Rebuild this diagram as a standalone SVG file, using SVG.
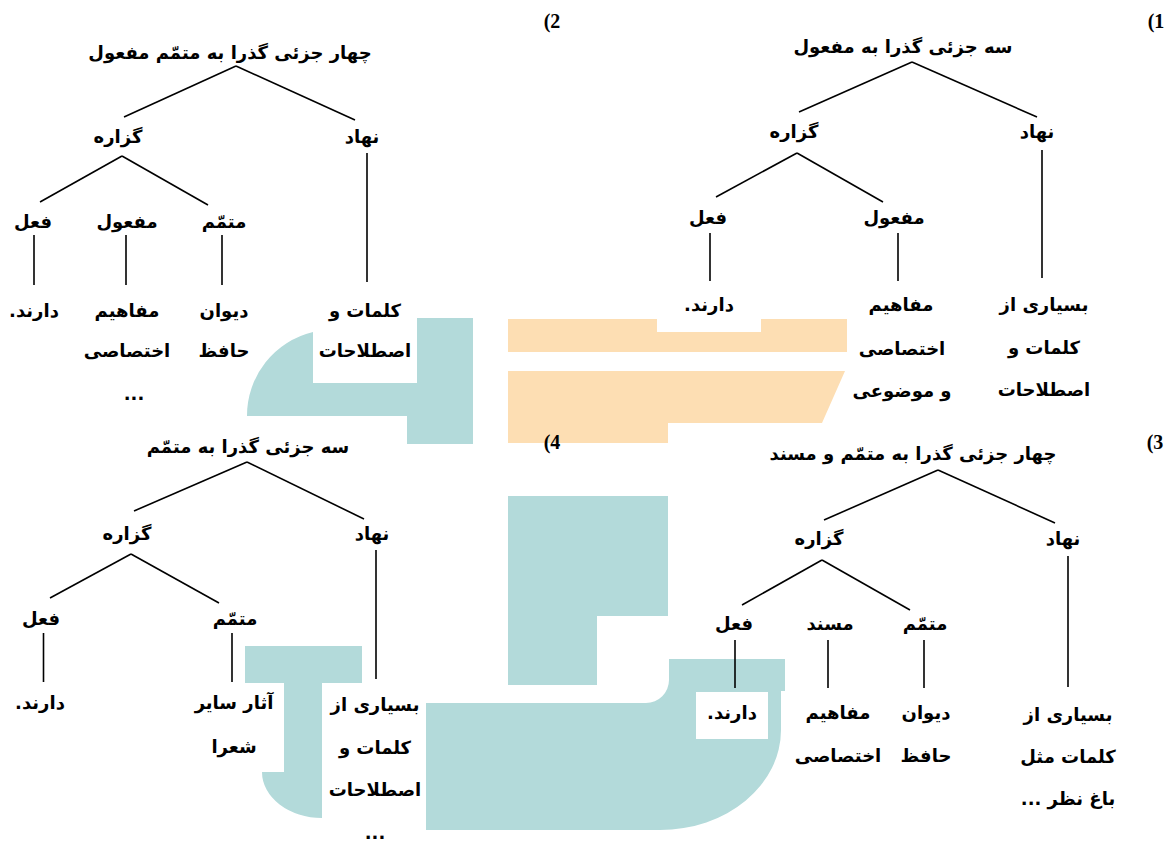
<svg xmlns="http://www.w3.org/2000/svg" width="1171" height="842" viewBox="0 0 1171 842">
<style>
.t{font-family:"DejaVu Sans",sans-serif;font-weight:bold;font-size:18px;text-anchor:middle;direction:rtl;fill:#000}
.n{font-family:"Liberation Serif",serif;font-weight:bold;font-size:20px;text-anchor:middle;fill:#000}
.c line{stroke:#000;stroke-width:1.6}
.teal{fill:#b3dada}
.org{fill:#fddeb3}
</style>
<rect width="1171" height="842" fill="#fff"/>
<g id="background">
<path class="teal" d="M247,416 H407 V444 H473 V318 H417 V383 H313 V332 A86,86 0 0 0 247,416 Z"/>
<path class="org" d="M508,319 H657 V332 H761 V319 H847 V352 H508 Z"/>
<path class="org" d="M508,371 H845 L822,423 H668 V443 H508 Z"/>
<path class="teal" d="M508,496 H668 V616 H597 V685 H508 Z"/>
<path class="teal" d="M426,703 H646 A23,23 0 0 0 669,680 V659 H785 V691 H781 V730 A121,100 0 0 1 660,830 H426 Z"/>
<rect x="696" y="692" width="72" height="47" fill="#fff"/>
<path class="teal" d="M245,646 H362 V683 H322 V818 A60,46 0 0 1 262,772 H284 V683 H245 Z"/>
</g>
<g id="labels">
<text class="n" x="1156" y="28">(1</text>
<text class="n" x="552" y="28">(2</text>
<text class="n" x="1155" y="449">(3</text>
<text class="n" x="552" y="449">(4</text>
</g>
<g id="connectors" class="c">
<line x1="912" y1="62" x2="799" y2="112"/>
<line x1="912" y1="62" x2="1037" y2="117"/>
<line x1="797" y1="153" x2="716" y2="197"/>
<line x1="797" y1="153" x2="883" y2="202"/>
<line x1="710" y1="233" x2="710" y2="281"/>
<line x1="898" y1="233" x2="898" y2="281"/>
<line x1="1042" y1="150" x2="1042" y2="278"/>
<line x1="236" y1="66" x2="124" y2="117"/>
<line x1="236" y1="66" x2="355" y2="120"/>
<line x1="122" y1="156" x2="40" y2="202"/>
<line x1="122" y1="156" x2="208" y2="205"/>
<line x1="34" y1="235" x2="34" y2="285"/>
<line x1="126" y1="235" x2="126" y2="285"/>
<line x1="222" y1="235" x2="222" y2="285"/>
<line x1="367" y1="153" x2="367" y2="282"/>
<line x1="247" y1="462" x2="134" y2="511"/>
<line x1="247" y1="462" x2="364" y2="519"/>
<line x1="131" y1="554" x2="50" y2="598"/>
<line x1="131" y1="554" x2="219" y2="603"/>
<line x1="43.5" y1="633" x2="43.5" y2="682"/>
<line x1="232" y1="633" x2="232" y2="682"/>
<line x1="376" y1="550" x2="376" y2="679"/>
<line x1="938" y1="470" x2="824" y2="520"/>
<line x1="938" y1="470" x2="1055" y2="523"/>
<line x1="822" y1="560" x2="742" y2="605"/>
<line x1="822" y1="560" x2="910" y2="610"/>
<line x1="735" y1="640" x2="735" y2="688"/>
<line x1="828" y1="640" x2="828" y2="688"/>
<line x1="924" y1="640" x2="924" y2="688"/>
<line x1="1068" y1="556" x2="1068" y2="687"/>
</g>
<g id="tree1">
<g id="t1-root"><text class="t" x="903" y="53">سه جزئی گذرا به مفعول</text></g>
<g id="t1-gozare"><text class="t" x="794" y="138">گزاره</text></g>
<g id="t1-nahad"><text class="t" x="1037" y="138">نهاد</text></g>
<g id="t1-feel"><text class="t" x="708" y="224">فعل</text></g>
<g id="t1-mafool"><text class="t" x="894" y="224">مفعول</text></g>
<g id="t1-leaf1"><text class="t" x="709" y="311">دارند.</text></g>
<g id="t1-leaf2"><text class="t" x="901" y="311">مفاهیم</text><text class="t" x="902" y="355">اختصاصی</text><text class="t" x="902" y="397">و موضوعی</text></g>
<g id="t1-leaf3"><text class="t" x="1044" y="311">بسیاری از</text><text class="t" x="1044" y="354">کلمات و</text><text class="t" x="1044" y="396">اصطلاحات</text></g>
</g>
<g id="tree2">
<g id="t2-root"><text class="t" x="230" y="59">چهار جزئی گذرا به متمّم مفعول</text></g>
<g id="t2-gozare"><text class="t" x="118" y="143">گزاره</text></g>
<g id="t2-nahad"><text class="t" x="362" y="143">نهاد</text></g>
<g id="t2-feel"><text class="t" x="33" y="228">فعل</text></g>
<g id="t2-mafool"><text class="t" x="127" y="228">مفعول</text></g>
<g id="t2-motammam"><text class="t" x="224" y="228">متمّم</text></g>
<g id="t2-leaf1"><text class="t" x="34" y="317">دارند.</text></g>
<g id="t2-leaf2"><text class="t" x="127" y="317">مفاهیم</text><text class="t" x="127" y="357">اختصاصی</text><text class="t" x="134" y="400">...</text></g>
<g id="t2-leaf3"><text class="t" x="224" y="317">دیوان</text><text class="t" x="224" y="357">حافظ</text></g>
<g id="t2-leaf4"><text class="t" x="365" y="317">کلمات و</text><text class="t" x="365" y="357">اصطلاحات</text></g>
</g>
<g id="tree3">
<g id="t3-root"><text class="t" x="913" y="460">چهار جزئی گذرا به متمّم و مسند</text></g>
<g id="t3-gozare"><text class="t" x="819" y="545">گزاره</text></g>
<g id="t3-nahad"><text class="t" x="1063" y="545">نهاد</text></g>
<g id="t3-feel"><text class="t" x="734" y="630">فعل</text></g>
<g id="t3-mosnad"><text class="t" x="830" y="630">مسند</text></g>
<g id="t3-motammam"><text class="t" x="925" y="630">متمّم</text></g>
<g id="t3-leaf1"><text class="t" x="732" y="719">دارند.</text></g>
<g id="t3-leaf2"><text class="t" x="838" y="719">مفاهیم</text><text class="t" x="838" y="762">اختصاصی</text></g>
<g id="t3-leaf3"><text class="t" x="926" y="719">دیوان</text><text class="t" x="926" y="762">حافظ</text></g>
<g id="t3-leaf4"><text class="t" x="1068" y="721">بسیاری از</text><text class="t" x="1068" y="763">کلمات مثل</text><text class="t" x="1068" y="805">باغ نظر ...</text></g>
</g>
<g id="tree4">
<g id="t4-root"><text class="t" x="248" y="453">سه جزئی گذرا به متمّم</text></g>
<g id="t4-gozare"><text class="t" x="127" y="540">گزاره</text></g>
<g id="t4-nahad"><text class="t" x="372" y="540">نهاد</text></g>
<g id="t4-feel"><text class="t" x="41" y="625">فعل</text></g>
<g id="t4-motammam"><text class="t" x="235" y="625">متمّم</text></g>
<g id="t4-leaf1"><text class="t" x="40" y="709">دارند.</text></g>
<g id="t4-leaf2"><text class="t" x="234" y="709">آثار سایر</text><text class="t" x="234" y="753">شعرا</text></g>
<g id="t4-leaf3"><text class="t" x="375" y="711">بسیاری از</text><text class="t" x="375" y="754">کلمات و</text><text class="t" x="375" y="796">اصطلاحات</text><text class="t" x="375" y="839">...</text></g>
</g>
</svg>
